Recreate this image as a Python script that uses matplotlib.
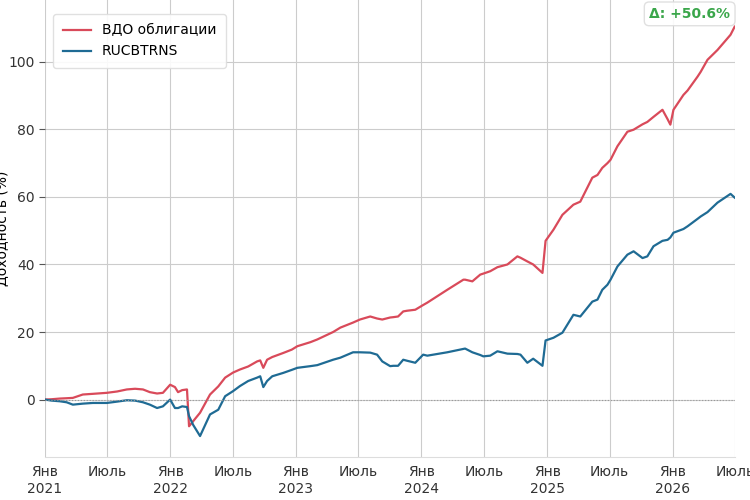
import pandas as pd
import matplotlib.pyplot as plt

# weekly-ish points (cumulative return, %)
dates = [
    "2021-01-01", "2021-01-20", "2021-02-13", "2021-03-05", "2021-03-23", "2021-04-21",
    "2021-05-20", "2021-06-30", "2021-07-30", "2021-08-27", "2021-09-20", "2021-10-13",
    "2021-11-02", "2021-11-23", "2021-12-10", "2021-12-31", "2022-01-14", "2022-01-23",
    "2022-02-04", "2022-02-18", "2022-02-24", "2022-03-08", "2022-03-28", "2022-04-26",
    "2022-05-20", "2022-06-09", "2022-07-02", "2022-07-22", "2022-08-15", "2022-09-10",
    "2022-09-19", "2022-09-28", "2022-10-09", "2022-10-24", "2022-11-25", "2022-12-20",
    "2023-01-05", "2023-02-12", "2023-03-04", "2023-04-19", "2023-05-10", "2023-06-16",
    "2023-07-06", "2023-08-05", "2023-08-25", "2023-09-09", "2023-10-02", "2023-10-11",
    "2023-10-25", "2023-11-09", "2023-11-20", "2023-12-14", "2024-01-06", "2024-01-18",
    "2024-03-16", "2024-05-02", "2024-05-07", "2024-05-28", "2024-06-20", "2024-06-29",
    "2024-07-19", "2024-08-09", "2024-09-07", "2024-10-06", "2024-10-15", "2024-11-04",
    "2024-11-21", "2024-12-18", "2024-12-27", "2025-01-19", "2025-02-14", "2025-03-18",
    "2025-04-07", "2025-05-12", "2025-05-27", "2025-06-10", "2025-06-25", "2025-07-04",
    "2025-07-24", "2025-08-22", "2025-09-09", "2025-10-05", "2025-10-19", "2025-11-06",
    "2025-12-02", "2025-12-17", "2025-12-25", "2026-01-03", "2026-02-01", "2026-02-13",
    "2026-03-14", "2026-03-23", "2026-04-12", "2026-05-11", "2026-06-18", "2026-06-30",
]
vdo = [
    0.0, 0.1, 0.3, 0.4, 0.5, 1.5,
    1.7, 2.0, 2.4, 3.0, 3.2, 3.0,
    2.2, 1.8, 2.0, 4.4, 3.7, 2.2,
    2.8, 3.0, -7.9, -6.4, -3.9, 1.5,
    3.9, 6.5, 8.0, 8.9, 9.8, 11.3,
    11.6, 9.4, 11.8, 12.6, 13.8, 14.8,
    15.8, 17.0, 17.8, 20.0, 21.3, 22.8,
    23.7, 24.6, 24.0, 23.7, 24.3, 24.4,
    24.6, 26.1, 26.3, 26.6, 28.0, 28.7,
    32.5, 35.5, 35.5, 35.0, 37.0, 37.3,
    38.0, 39.2, 40.0, 42.4, 42.0, 40.9,
    40.0, 37.5, 47.0, 50.3, 54.7, 57.7,
    58.6, 65.7, 66.5, 68.6, 70.0, 71.0,
    75.0, 79.3, 79.9, 81.5, 82.2, 83.7,
    85.8, 83.0, 81.4, 85.8, 90.2, 91.5,
    95.6, 97.0, 100.6, 103.5, 108.0, 110.4,
]
rucb = [
    0.0, -0.3, -0.5, -0.8, -1.5, -1.2,
    -1.0, -1.0, -0.6, -0.2, -0.3, -0.8,
    -1.5, -2.5, -2.0, 0.0, -2.5, -2.5,
    -2.0, -2.2, -4.9, -7.5, -10.8, -4.4,
    -3.0, 1.0, 2.5, 4.0, 5.5, 6.5,
    6.9, 3.7, 5.5, 6.9, 7.9, 8.8,
    9.4, 9.9, 10.2, 11.8, 12.4, 14.0,
    14.0, 13.9, 13.3, 11.3, 9.9, 10.0,
    10.0, 11.8, 11.5, 10.9, 13.3, 13.0,
    14.0, 15.0, 15.1, 14.0, 13.2, 12.8,
    13.0, 14.3, 13.6, 13.5, 13.3, 10.9,
    12.1, 10.0, 17.5, 18.3, 19.8, 25.1,
    24.6, 29.0, 29.6, 32.5, 34.0, 35.5,
    39.4, 42.9, 43.9, 41.9, 42.4, 45.4,
    47.0, 47.3, 48.0, 49.4, 50.5, 51.3,
    53.5, 54.2, 55.5, 58.3, 60.9, 59.8,
]
tick_dates = pd.date_range("2021-01-01", "2026-07-01", freq="6MS")
tick_labels = ["Янв\n2021", "Июль", "Янв\n2022", "Июль", "Янв\n2023", "Июль",
               "Янв\n2024", "Июль", "Янв\n2025", "Июль", "Янв\n2026", "Июль"]

x = pd.to_datetime(dates)

fig = plt.figure(figsize=(7.5, 5), dpi=100)
ax = fig.add_axes([0.06, 0.086, 0.92, 0.914])

ax.plot(x, vdo, color="#d94a5a", lw=1.6, label="ВДО облигации")
ax.plot(x, rucb, color="#1f6b94", lw=1.6, label="RUCBTRNS")
ax.axhline(0, color="#999999", lw=0.8, ls=":")

ax.set_xlim(pd.Timestamp("2021-01-01"), pd.Timestamp("2026-07-01"))
ax.set_ylim(-17, 118.3)
ax.set_xticks(tick_dates)
ax.set_xticklabels(tick_labels)
ax.set_yticks([0, 20, 40, 60, 80, 100])
ax.tick_params(labelsize=10, colors="#333333")
ax.tick_params(axis="x", length=0, pad=6)
ax.tick_params(axis="y", length=4, color="#555555")
ax.grid(True, color="#cccccc", lw=0.8)
for s in ax.spines.values():
    s.set_visible(False)
ax.spines["bottom"].set_visible(True)
ax.spines["bottom"].set_color("#dddddd")
ax.set_ylabel("Доходность (%)", fontsize=10)
ax.yaxis.set_label_coords(-0.052, 0.5)

ax.legend(loc="upper left", fontsize=10, frameon=True, framealpha=0.9,
          edgecolor="#dddddd", borderpad=0.7, handlelength=2.0,
          bbox_to_anchor=(0.002, 0.985))

delta = vdo[-1] - rucb[-1]
ax.text(0.993, 0.985, f"Δ: {delta:+.1f}%", transform=ax.transAxes,
        ha="right", va="top", fontsize=10, fontweight="bold", color="#3aa64a",
        bbox=dict(boxstyle="round,pad=0.35", fc="white", ec="#dddddd", alpha=0.9))

fig.savefig("out.png", dpi=100)
